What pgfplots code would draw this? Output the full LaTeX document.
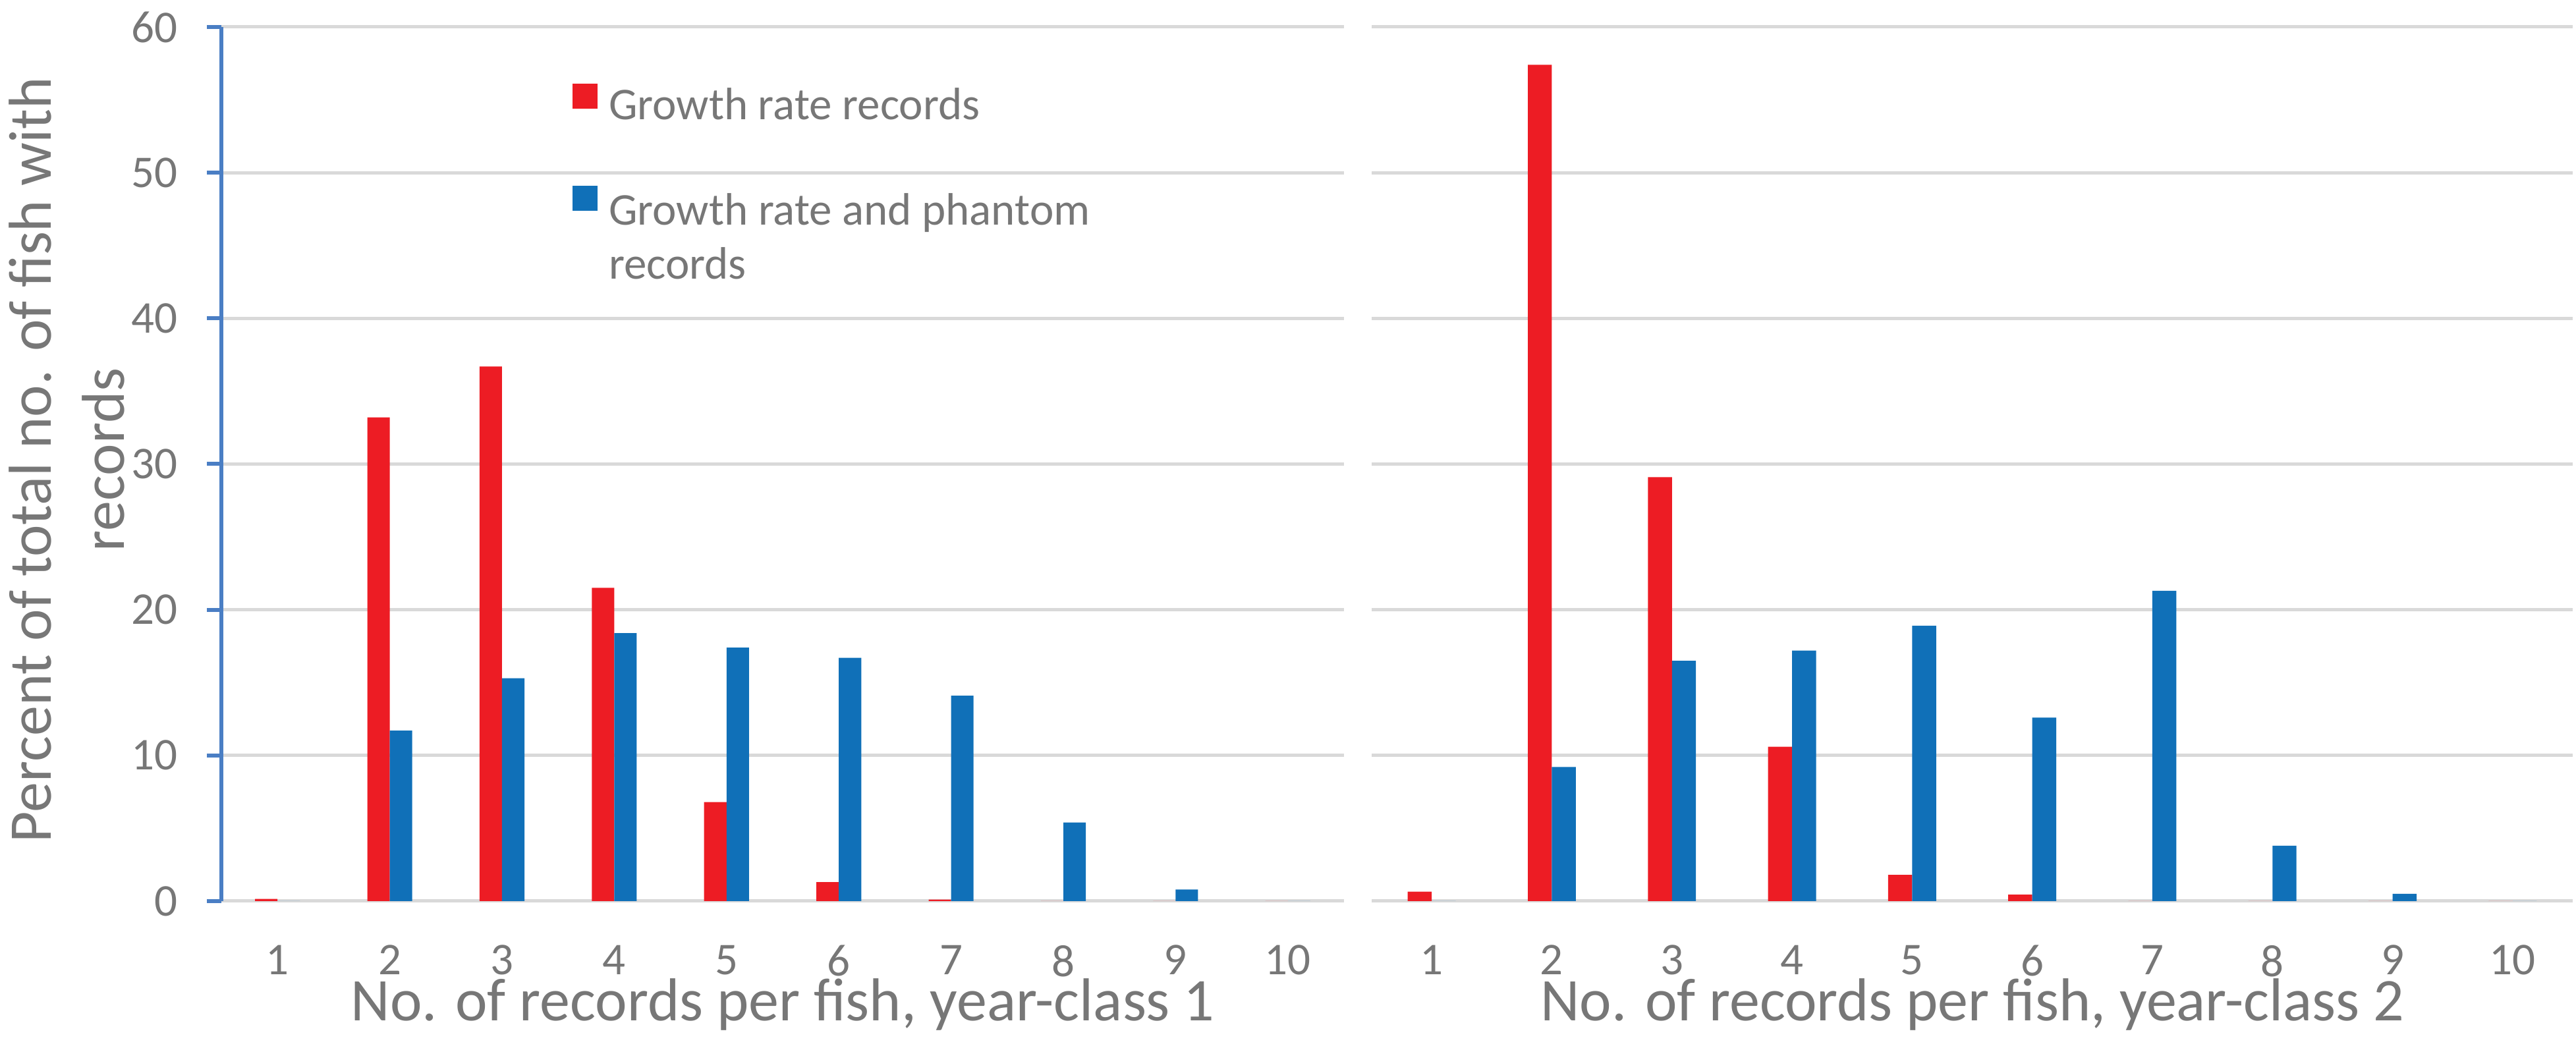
\documentclass[border=0pt]{standalone}
\usepackage{fontspec}
\setmainfont{Carlito}
\usepackage{pgfplots}
\usepackage{pgfplotstable}
\pgfplotsset{compat=1.18}
\definecolor{barred}{HTML}{ED1C24}
\definecolor{barblue}{HTML}{1070B8}
\definecolor{axisblue}{HTML}{4A7EC4}
\definecolor{gridgray}{HTML}{D9D9D9}
\definecolor{textgray}{HTML}{777777}

\pgfplotstableread{
n red blue
1 0.15 0
2 33.2 11.7
3 36.7 15.3
4 21.5 18.4
5 6.8 17.4
6 1.3 16.7
7 0.1 14.1
8 0 5.4
9 0 0.8
10 0 0
}\yearone

\pgfplotstableread{
n red blue
1 0.65 0
2 57.4 9.2
3 29.1 16.5
4 10.6 17.2
5 1.8 18.9
6 0.45 12.6
7 0 21.3
8 0 3.8
9 0 0.5
10 0 0
}\yeartwo

\pgfplotsset{
 fishaxis/.style={
  scale only axis, height=132.7pt,
  xmin=0.5, xmax=10.5, ymin=0, ymax=60,
  xtick={1,...,10}, ytick={0,10,...,60},
  axis lines*=left, axis line style={-},
  x axis line style={draw=none},
  ymajorgrids, grid style={draw=gridgray, line width=0.5pt},
  tick align=outside, major tick length=2.2pt,
  xtick style={draw=none},
  xticklabel shift=4.3pt, yticklabel shift=4.3pt,
  tick label style={font=\fontsize{6.9}{8}\selectfont, text=textgray, inner sep=0pt},
  /pgf/number format/assume math mode=true,
  xlabel style={font=\fontsize{9.2}{11}\selectfont, text=textgray, inner sep=0pt,
    at={(axis description cs:0.5,0)}, anchor=base, yshift=-18.2pt},
  ybar, bar width=0.2,
  enlargelimits=false,
 }
}

\begin{document}
\begin{tikzpicture}
\useasboundingbox (0,0) rectangle (391pt,159.4pt);
\begin{axis}[fishaxis,
  at={(33.6pt,22.6pt)}, anchor=south west, width=170.4pt,
  y axis line style={draw=axisblue, line width=0.6pt},
  ytick style={draw=axisblue, line width=0.6pt},
  xlabel={No. of records per fish, year-class 1},
  ylabel={Percent of total no. of fish with\\records},
  ylabel style={font=\fontsize{9.2}{11.1}\selectfont, text=textgray, align=center,
    at={(axis description cs:-0.0851,0.505)}, anchor=south, inner sep=0pt},
  legend style={at={(axis description cs:0.3128,0.9352)}, anchor=north west,
    draw=none, fill=none, inner sep=0pt, outer sep=0pt,
    /tikz/row sep=8.6pt, /tikz/column sep=1.7pt,
    font=\fontsize{6.9}{8.2}\selectfont, text=textgray,
    nodes={inner sep=0pt, text=textgray}},
  legend cell align=left,
]
\addplot[fill=barred, draw=none, bar shift=-0.1,
  legend image code/.code={\fill[barred] (0pt,0pt) rectangle (3.8pt,3.8pt);}]
  table[x=n, y=red]{\yearone};
\addlegendentry{Growth rate records}
\addplot[fill=barblue, draw=none, bar shift=0.1,
  legend image code/.code={\fill[barblue] (0pt,0pt) rectangle (3.8pt,3.8pt);}]
  table[x=n, y=blue]{\yearone};
\addlegendentry{\renewcommand{\arraystretch}{1}\begin{tabular}[t]{@{}l@{}}Growth rate and phantom\\records\end{tabular}}
\end{axis}
\begin{axis}[fishaxis,
  at={(208.2pt,22.6pt)}, anchor=south west, width=182.3pt,
  y axis line style={draw=none},
  ytick style={draw=none},
  yticklabels={},
  xlabel={No. of records per fish, year-class 2},
]
\addplot[fill=barred, draw=none, bar shift=-0.1] table[x=n, y=red]{\yeartwo};
\addplot[fill=barblue, draw=none, bar shift=0.1] table[x=n, y=blue]{\yeartwo};
\end{axis}
\end{tikzpicture}
\end{document}
